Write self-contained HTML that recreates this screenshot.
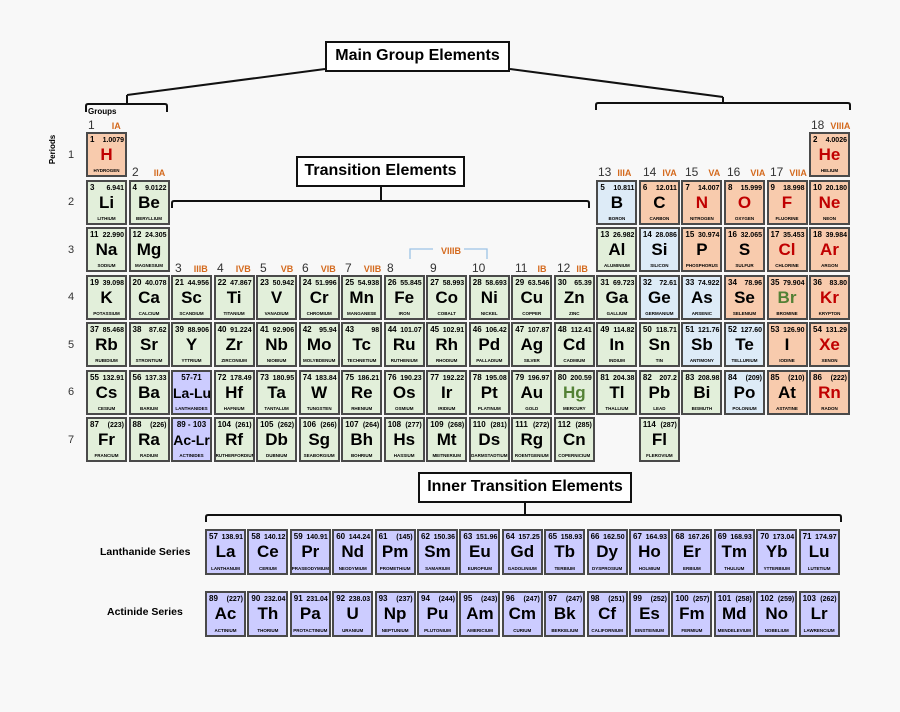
<!DOCTYPE html>
<html><head><meta charset="utf-8"><style>
body{margin:0;background:#f8f8f8;width:900px;height:712px;position:relative;overflow:hidden;font-family:"Liberation Sans",sans-serif}
.c{position:absolute;width:41px;height:45px;box-sizing:border-box;border:2px solid #4a4a4a;background:#e2efda;color:#000}
.c i{position:absolute;left:2px;top:1px;font:bold 8px "Liberation Sans",sans-serif;font-style:normal}
.c b{position:absolute;right:1px;top:3px;font:bold 7px "Liberation Sans",sans-serif}
.c s{position:absolute;left:0;right:0;top:11px;text-align:center;font:bold 17px "Liberation Sans",sans-serif;text-decoration:none;white-space:nowrap}
.c u{position:absolute;left:0;right:0;bottom:2px;text-align:center;font:bold 4.5px "Liberation Sans",sans-serif;text-decoration:none;white-space:nowrap;overflow:hidden}
.c.w i{left:0;right:0;text-align:center;white-space:nowrap}
.c.w s{font-size:14px;top:13px}
.o{background:#f8cbad!important}.bl{background:#ddebf7!important}.p{background:#ccccff!important}
.r s{color:#c00000}.gr s{color:#538135}
.l{height:46px}
.t{position:absolute;font-size:12px;color:#333;white-space:nowrap}
.t em{color:#d46a1e;font-weight:bold;font-style:normal;font-size:9px;margin-left:12px}
.bx{position:absolute;border:2.5px solid #111;background:#fff;font-weight:bold;font-size:16px;text-align:center;box-sizing:border-box}
.pn{position:absolute;left:68px;font-size:11px;color:#333}
.ser{position:absolute;font-weight:bold;font-size:10.5px}
</style></head><body>
<svg width="900" height="712" style="position:absolute;left:0;top:0" fill="none" stroke="#111" stroke-width="2">
<path d="M325 69 L127 95 M127 95 V104 M86 112 V106 Q86 104 88 104 H165 Q167 104 167 106 V112"/>
<path d="M510 69 L723 97 M723 97 V103 M596 110 V105 Q596 103 598 103 H848 Q850 103 850 105 V110"/>
<path d="M381 187 V201 M172 208 V203 Q172 201 174 201 H587 Q589 201 589 203 V208"/>
<path d="M525 503 V515 M206 522 V517 Q206 515 208 515 H839 Q841 515 841 517 V522"/>
<path d="M410 259 V249 H433 M464 249 H487 V259" stroke="#9dc3e6" stroke-width="1.3"/>
</svg>
<div class="bx" style="left:325px;top:41px;width:185px;height:31px;line-height:26px">Main Group Elements</div>
<div class="bx" style="left:296px;top:156px;width:169px;height:31px;line-height:26px">Transition Elements</div>
<div class="bx" style="left:418px;top:472px;width:214px;height:31px;line-height:26px">Inner Transition Elements</div>
<div style="position:absolute;left:88px;top:107px;font-size:8px;font-weight:bold">Groups</div>
<div style="position:absolute;left:38px;top:145px;font-size:8px;font-weight:bold;transform:rotate(-90deg)">Periods</div>
<div class="t" style="left:88px;top:118px">1<em style="margin-left:17px">IA</em></div>
<div class="t" style="left:132px;top:165px">2<em style="margin-left:15px">IIA</em></div>
<div class="t" style="left:175px;top:261px">3<em>IIIB</em></div>
<div class="t" style="left:217px;top:261px">4<em>IVB</em></div>
<div class="t" style="left:260px;top:261px">5<em style="margin-left:14px">VB</em></div>
<div class="t" style="left:302px;top:261px">6<em>VIB</em></div>
<div class="t" style="left:345px;top:261px">7<em>VIIB</em></div>
<div class="t" style="left:387px;top:261px">8</div>
<div class="t" style="left:430px;top:261px">9</div>
<div class="t" style="left:472px;top:261px">10</div>
<div class="t" style="left:441px;top:243px"><em style="margin:0">VIIIB</em></div>
<div class="t" style="left:515px;top:261px">11<em style="margin-left:10px">IB</em></div>
<div class="t" style="left:557px;top:261px">12<em style="margin-left:6px">IIB</em></div>
<div class="t" style="left:598px;top:165px">13<em style="margin-left:6px">IIIA</em></div>
<div class="t" style="left:643px;top:165px">14<em style="margin-left:6px">IVA</em></div>
<div class="t" style="left:685px;top:165px">15<em style="margin-left:10px">VA</em></div>
<div class="t" style="left:727px;top:165px">16<em style="margin-left:10px">VIA</em></div>
<div class="t" style="left:770px;top:165px">17<em style="margin-left:6px">VIIA</em></div>
<div class="t" style="left:811px;top:118px">18<em style="margin-left:6px">VIIIA</em></div>
<div class="pn" style="top:149px">1</div><div class="pn" style="top:196px">2</div><div class="pn" style="top:244px">3</div><div class="pn" style="top:291px">4</div><div class="pn" style="top:339px">5</div><div class="pn" style="top:386px">6</div><div class="pn" style="top:434px">7</div>

<div class="c o r" style="left:86px;top:132px"><i>1</i><b>1.0079</b><s>H</s><u>HYDROGEN</u></div>
<div class="c o r" style="left:809px;top:132px"><i>2</i><b>4.0026</b><s>He</s><u>HELIUM</u></div>

<div class="c" style="left:86px;top:179.5px"><i>3</i><b>6.941</b><s>Li</s><u>LITHIUM</u></div>
<div class="c" style="left:128.5px;top:179.5px"><i>4</i><b>9.0122</b><s>Be</s><u>BERYLLIUM</u></div>
<div class="c bl" style="left:596.4px;top:179.5px"><i>5</i><b>10.811</b><s>B</s><u>BORON</u></div>
<div class="c o" style="left:638.9px;top:179.5px"><i>6</i><b>12.011</b><s>C</s><u>CARBON</u></div>
<div class="c o r" style="left:681.4px;top:179.5px"><i>7</i><b>14.007</b><s>N</s><u>NITROGEN</u></div>
<div class="c o r" style="left:724px;top:179.5px"><i>8</i><b>15.999</b><s>O</s><u>OXYGEN</u></div>
<div class="c o r" style="left:766.5px;top:179.5px"><i>9</i><b>18.998</b><s>F</s><u>FLUORINE</u></div>
<div class="c o r" style="left:809px;top:179.5px"><i>10</i><b>20.180</b><s>Ne</s><u>NEON</u></div>

<div class="c" style="left:86px;top:227px"><i>11</i><b>22.990</b><s>Na</s><u>SODIUM</u></div>
<div class="c" style="left:128.5px;top:227px"><i>12</i><b>24.305</b><s>Mg</s><u>MAGNESIUM</u></div>
<div class="c" style="left:596.4px;top:227px"><i>13</i><b>26.982</b><s>Al</s><u>ALUMINIUM</u></div>
<div class="c bl" style="left:638.9px;top:227px"><i>14</i><b>28.086</b><s>Si</s><u>SILICON</u></div>
<div class="c o" style="left:681.4px;top:227px"><i>15</i><b>30.974</b><s>P</s><u>PHOSPHORUS</u></div>
<div class="c o" style="left:724px;top:227px"><i>16</i><b>32.065</b><s>S</s><u>SULFUR</u></div>
<div class="c o r" style="left:766.5px;top:227px"><i>17</i><b>35.453</b><s>Cl</s><u>CHLORINE</u></div>
<div class="c o r" style="left:809px;top:227px"><i>18</i><b>39.984</b><s>Ar</s><u>ARGON</u></div>

<div class="c" style="left:86px;top:274.5px"><i>19</i><b>39.098</b><s>K</s><u>POTASSIUM</u></div>
<div class="c" style="left:128.5px;top:274.5px"><i>20</i><b>40.078</b><s>Ca</s><u>CALCIUM</u></div>
<div class="c" style="left:171px;top:274.5px"><i>21</i><b>44.956</b><s>Sc</s><u>SCANDIUM</u></div>
<div class="c" style="left:213.6px;top:274.5px"><i>22</i><b>47.867</b><s>Ti</s><u>TITANIUM</u></div>
<div class="c" style="left:256.1px;top:274.5px"><i>23</i><b>50.942</b><s>V</s><u>VANADIUM</u></div>
<div class="c" style="left:298.7px;top:274.5px"><i>24</i><b>51.996</b><s>Cr</s><u>CHROMIUM</u></div>
<div class="c" style="left:341.2px;top:274.5px"><i>25</i><b>54.938</b><s>Mn</s><u>MANGANESE</u></div>
<div class="c" style="left:383.7px;top:274.5px"><i>26</i><b>55.845</b><s>Fe</s><u>IRON</u></div>
<div class="c" style="left:426.2px;top:274.5px"><i>27</i><b>58.993</b><s>Co</s><u>COBALT</u></div>
<div class="c" style="left:468.8px;top:274.5px"><i>28</i><b>58.693</b><s>Ni</s><u>NICKEL</u></div>
<div class="c" style="left:511.3px;top:274.5px"><i>29</i><b>63.546</b><s>Cu</s><u>COPPER</u></div>
<div class="c" style="left:553.8px;top:274.5px"><i>30</i><b>65.39</b><s>Zn</s><u>ZINC</u></div>
<div class="c" style="left:596.4px;top:274.5px"><i>31</i><b>69.723</b><s>Ga</s><u>GALLIUM</u></div>
<div class="c bl" style="left:638.9px;top:274.5px"><i>32</i><b>72.61</b><s>Ge</s><u>GERMANIUM</u></div>
<div class="c bl" style="left:681.4px;top:274.5px"><i>33</i><b>74.922</b><s>As</s><u>ARSENIC</u></div>
<div class="c o" style="left:724px;top:274.5px"><i>34</i><b>78.96</b><s>Se</s><u>SELENIUM</u></div>
<div class="c o gr" style="left:766.5px;top:274.5px"><i>35</i><b>79.904</b><s>Br</s><u>BROMINE</u></div>
<div class="c o r" style="left:809px;top:274.5px"><i>36</i><b>83.80</b><s>Kr</s><u>KRYPTON</u></div>

<div class="c" style="left:86px;top:322px"><i>37</i><b>85.468</b><s>Rb</s><u>RUBIDIUM</u></div>
<div class="c" style="left:128.5px;top:322px"><i>38</i><b>87.62</b><s>Sr</s><u>STRONTIUM</u></div>
<div class="c" style="left:171px;top:322px"><i>39</i><b>88.906</b><s>Y</s><u>YTTRIUM</u></div>
<div class="c" style="left:213.6px;top:322px"><i>40</i><b>91.224</b><s>Zr</s><u>ZIRCONIUM</u></div>
<div class="c" style="left:256.1px;top:322px"><i>41</i><b>92.906</b><s>Nb</s><u>NIOBIUM</u></div>
<div class="c" style="left:298.7px;top:322px"><i>42</i><b>95.94</b><s>Mo</s><u>MOLYBDENUM</u></div>
<div class="c" style="left:341.2px;top:322px"><i>43</i><b>98</b><s>Tc</s><u>TECHNETIUM</u></div>
<div class="c" style="left:383.7px;top:322px"><i>44</i><b>101.07</b><s>Ru</s><u>RUTHENIUM</u></div>
<div class="c" style="left:426.2px;top:322px"><i>45</i><b>102.91</b><s>Rh</s><u>RHODIUM</u></div>
<div class="c" style="left:468.8px;top:322px"><i>46</i><b>106.42</b><s>Pd</s><u>PALLADIUM</u></div>
<div class="c" style="left:511.3px;top:322px"><i>47</i><b>107.87</b><s>Ag</s><u>SILVER</u></div>
<div class="c" style="left:553.8px;top:322px"><i>48</i><b>112.41</b><s>Cd</s><u>CADMIUM</u></div>
<div class="c" style="left:596.4px;top:322px"><i>49</i><b>114.82</b><s>In</s><u>INDIUM</u></div>
<div class="c" style="left:638.9px;top:322px"><i>50</i><b>118.71</b><s>Sn</s><u>TIN</u></div>
<div class="c bl" style="left:681.4px;top:322px"><i>51</i><b>121.76</b><s>Sb</s><u>ANTIMONY</u></div>
<div class="c bl" style="left:724px;top:322px"><i>52</i><b>127.60</b><s>Te</s><u>TELLURIUM</u></div>
<div class="c o" style="left:766.5px;top:322px"><i>53</i><b>126.90</b><s>I</s><u>IODINE</u></div>
<div class="c o r" style="left:809px;top:322px"><i>54</i><b>131.29</b><s>Xe</s><u>XENON</u></div>

<div class="c" style="left:86px;top:369.5px"><i>55</i><b>132.91</b><s>Cs</s><u>CESIUM</u></div>
<div class="c" style="left:128.5px;top:369.5px"><i>56</i><b>137.33</b><s>Ba</s><u>BARIUM</u></div>
<div class="c p w" style="left:171px;top:369.5px"><i>57-71</i><s>La-Lu</s><u>LANTHANIDES</u></div>
<div class="c" style="left:213.6px;top:369.5px"><i>72</i><b>178.49</b><s>Hf</s><u>HAFNIUM</u></div>
<div class="c" style="left:256.1px;top:369.5px"><i>73</i><b>180.95</b><s>Ta</s><u>TANTALUM</u></div>
<div class="c" style="left:298.7px;top:369.5px"><i>74</i><b>183.84</b><s>W</s><u>TUNGSTEN</u></div>
<div class="c" style="left:341.2px;top:369.5px"><i>75</i><b>186.21</b><s>Re</s><u>RHENIUM</u></div>
<div class="c" style="left:383.7px;top:369.5px"><i>76</i><b>190.23</b><s>Os</s><u>OSMIUM</u></div>
<div class="c" style="left:426.2px;top:369.5px"><i>77</i><b>192.22</b><s>Ir</s><u>IRIDIUM</u></div>
<div class="c" style="left:468.8px;top:369.5px"><i>78</i><b>195.08</b><s>Pt</s><u>PLATINUM</u></div>
<div class="c" style="left:511.3px;top:369.5px"><i>79</i><b>196.97</b><s>Au</s><u>GOLD</u></div>
<div class="c gr" style="left:553.8px;top:369.5px"><i>80</i><b>200.59</b><s>Hg</s><u>MERCURY</u></div>
<div class="c" style="left:596.4px;top:369.5px"><i>81</i><b>204.38</b><s>Tl</s><u>THALLIUM</u></div>
<div class="c" style="left:638.9px;top:369.5px"><i>82</i><b>207.2</b><s>Pb</s><u>LEAD</u></div>
<div class="c" style="left:681.4px;top:369.5px"><i>83</i><b>208.98</b><s>Bi</s><u>BISMUTH</u></div>
<div class="c bl" style="left:724px;top:369.5px"><i>84</i><b>(209)</b><s>Po</s><u>POLONIUM</u></div>
<div class="c o" style="left:766.5px;top:369.5px"><i>85</i><b>(210)</b><s>At</s><u>ASTATINE</u></div>
<div class="c o r" style="left:809px;top:369.5px"><i>86</i><b>(222)</b><s>Rn</s><u>RADON</u></div>

<div class="c" style="left:86px;top:417px"><i>87</i><b>(223)</b><s>Fr</s><u>FRANCIUM</u></div>
<div class="c" style="left:128.5px;top:417px"><i>88</i><b>(226)</b><s>Ra</s><u>RADIUM</u></div>
<div class="c p w" style="left:171px;top:417px"><i>89 - 103</i><s>Ac-Lr</s><u>ACTINIDES</u></div>
<div class="c" style="left:213.6px;top:417px"><i>104</i><b>(261)</b><s>Rf</s><u>RUTHERFORDIUM</u></div>
<div class="c" style="left:256.1px;top:417px"><i>105</i><b>(262)</b><s>Db</s><u>DUBNIUM</u></div>
<div class="c" style="left:298.7px;top:417px"><i>106</i><b>(266)</b><s>Sg</s><u>SEABORGIUM</u></div>
<div class="c" style="left:341.2px;top:417px"><i>107</i><b>(264)</b><s>Bh</s><u>BOHRIUM</u></div>
<div class="c" style="left:383.7px;top:417px"><i>108</i><b>(277)</b><s>Hs</s><u>HASSIUM</u></div>
<div class="c" style="left:426.2px;top:417px"><i>109</i><b>(268)</b><s>Mt</s><u>MEITNERIUM</u></div>
<div class="c" style="left:468.8px;top:417px"><i>110</i><b>(281)</b><s>Ds</s><u>DARMSTADTIUM</u></div>
<div class="c" style="left:511.3px;top:417px"><i>111</i><b>(272)</b><s>Rg</s><u>ROENTGENIUM</u></div>
<div class="c" style="left:553.8px;top:417px"><i>112</i><b>(285)</b><s>Cn</s><u>COPERNICIUM</u></div>
<div class="c" style="left:638.9px;top:417px"><i>114</i><b>(287)</b><s>Fl</s><u>FLEROVIUM</u></div>

<div class="ser" style="left:100px;top:546px">Lanthanide Series</div>
<div class="ser" style="left:107px;top:606px">Actinide Series</div>

<div class="c p l" style="left:205px;top:529px"><i>57</i><b>138.91</b><s>La</s><u>LANTHANUM</u></div>
<div class="c p l" style="left:247.4px;top:529px"><i>58</i><b>140.12</b><s>Ce</s><u>CERIUM</u></div>
<div class="c p l" style="left:289.8px;top:529px"><i>59</i><b>140.91</b><s>Pr</s><u>PRASEODYMIUM</u></div>
<div class="c p l" style="left:332.2px;top:529px"><i>60</i><b>144.24</b><s>Nd</s><u>NEODYMIUM</u></div>
<div class="c p l" style="left:374.6px;top:529px"><i>61</i><b>(145)</b><s>Pm</s><u>PROMETHIUM</u></div>
<div class="c p l" style="left:417px;top:529px"><i>62</i><b>150.36</b><s>Sm</s><u>SAMARIUM</u></div>
<div class="c p l" style="left:459.4px;top:529px"><i>63</i><b>151.96</b><s>Eu</s><u>EUROPIUM</u></div>
<div class="c p l" style="left:501.8px;top:529px"><i>64</i><b>157.25</b><s>Gd</s><u>GADOLINIUM</u></div>
<div class="c p l" style="left:544.2px;top:529px"><i>65</i><b>158.93</b><s>Tb</s><u>TERBIUM</u></div>
<div class="c p l" style="left:586.6px;top:529px"><i>66</i><b>162.50</b><s>Dy</s><u>DYSPROSIUM</u></div>
<div class="c p l" style="left:629px;top:529px"><i>67</i><b>164.93</b><s>Ho</s><u>HOLMIUM</u></div>
<div class="c p l" style="left:671.4px;top:529px"><i>68</i><b>167.26</b><s>Er</s><u>ERBIUM</u></div>
<div class="c p l" style="left:713.8px;top:529px"><i>69</i><b>168.93</b><s>Tm</s><u>THULIUM</u></div>
<div class="c p l" style="left:756.2px;top:529px"><i>70</i><b>173.04</b><s>Yb</s><u>YTTERBIUM</u></div>
<div class="c p l" style="left:798.6px;top:529px"><i>71</i><b>174.97</b><s>Lu</s><u>LUTETIUM</u></div>

<div class="c p l" style="left:205px;top:591px"><i>89</i><b>(227)</b><s>Ac</s><u>ACTINIUM</u></div>
<div class="c p l" style="left:247.4px;top:591px"><i>90</i><b>232.04</b><s>Th</s><u>THORIUM</u></div>
<div class="c p l" style="left:289.8px;top:591px"><i>91</i><b>231.04</b><s>Pa</s><u>PROTACTINIUM</u></div>
<div class="c p l" style="left:332.2px;top:591px"><i>92</i><b>238.03</b><s>U</s><u>URANIUM</u></div>
<div class="c p l" style="left:374.6px;top:591px"><i>93</i><b>(237)</b><s>Np</s><u>NEPTUNIUM</u></div>
<div class="c p l" style="left:417px;top:591px"><i>94</i><b>(244)</b><s>Pu</s><u>PLUTONIUM</u></div>
<div class="c p l" style="left:459.4px;top:591px"><i>95</i><b>(243)</b><s>Am</s><u>AMERICIUM</u></div>
<div class="c p l" style="left:501.8px;top:591px"><i>96</i><b>(247)</b><s>Cm</s><u>CURIUM</u></div>
<div class="c p l" style="left:544.2px;top:591px"><i>97</i><b>(247)</b><s>Bk</s><u>BERKELIUM</u></div>
<div class="c p l" style="left:586.6px;top:591px"><i>98</i><b>(251)</b><s>Cf</s><u>CALIFORNIUM</u></div>
<div class="c p l" style="left:629px;top:591px"><i>99</i><b>(252)</b><s>Es</s><u>EINSTEINIUM</u></div>
<div class="c p l" style="left:671.4px;top:591px"><i>100</i><b>(257)</b><s>Fm</s><u>FERMIUM</u></div>
<div class="c p l" style="left:713.8px;top:591px"><i>101</i><b>(258)</b><s>Md</s><u>MENDELEVIUM</u></div>
<div class="c p l" style="left:756.2px;top:591px"><i>102</i><b>(259)</b><s>No</s><u>NOBELIUM</u></div>
<div class="c p l" style="left:798.6px;top:591px"><i>103</i><b>(262)</b><s>Lr</s><u>LAWRENCIUM</u></div>
</body></html>
